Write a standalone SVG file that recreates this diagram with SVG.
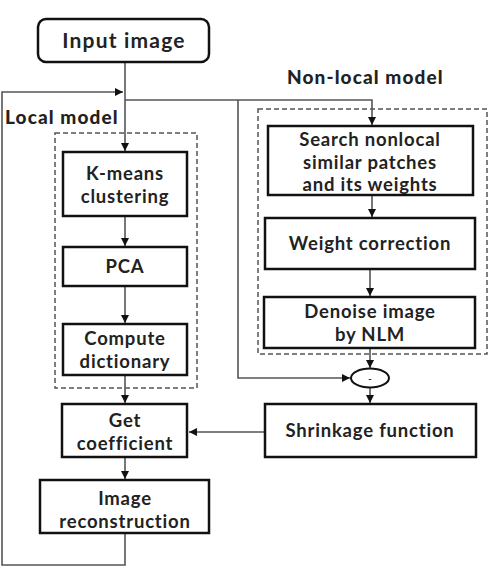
<svg xmlns="http://www.w3.org/2000/svg" width="490" height="571" viewBox="0 0 490 571">
<defs>
<style>
.box{fill:#fff;stroke:#111;stroke-width:2.5}
.dash{fill:none;stroke:#555;stroke-width:1.5;stroke-dasharray:5 3}
.ln{fill:none;stroke:#555;stroke-width:1.6}
.t{font-family:Lato,"Open Sans",sans-serif;font-weight:700;font-size:18.5px;letter-spacing:0.8px;fill:#222;text-anchor:middle}
.lbl{font-family:Lato,"Open Sans",sans-serif;font-weight:900;font-size:19px;letter-spacing:1.1px;fill:#222}
</style>
<marker id="ah" viewBox="0 0 10 10" refX="10" refY="5" markerWidth="8" markerHeight="8" markerUnits="userSpaceOnUse" orient="auto">
<path d="M0,0 L10,5 L0,10 z" fill="#111"/>
</marker>
</defs>
<rect width="490" height="571" fill="#fff"/>
<g id="connectors">
<line class="ln" x1="125" y1="62" x2="125" y2="151" marker-end="url(#ah)"/>
<polyline class="ln" points="125,533 125,565 2,565 2,92 123,92" marker-end="url(#ah)"/>
<polyline class="ln" points="125,100 372,100 372,125" marker-end="url(#ah)"/>
<polyline class="ln" points="238,100 238,378 350,378" marker-end="url(#ah)"/>
<line class="ln" x1="125" y1="216" x2="125" y2="246" marker-end="url(#ah)"/>
<line class="ln" x1="125" y1="286" x2="125" y2="323" marker-end="url(#ah)"/>
<line class="ln" x1="125" y1="375" x2="125" y2="403" marker-end="url(#ah)"/>
<line class="ln" x1="125" y1="457" x2="125" y2="479" marker-end="url(#ah)"/>
<line class="ln" x1="372" y1="195" x2="372" y2="217" marker-end="url(#ah)"/>
<line class="ln" x1="370" y1="269" x2="370" y2="296" marker-end="url(#ah)"/>
<line class="ln" x1="370" y1="348" x2="370" y2="368" marker-end="url(#ah)"/>
<line class="ln" x1="370" y1="388" x2="370" y2="403" marker-end="url(#ah)"/>
<line class="ln" x1="265" y1="432" x2="189" y2="432" marker-end="url(#ah)"/>
</g>
<g id="local-group">
<rect class="dash" x="55" y="133" width="142" height="255"/>
<text class="lbl" x="5" y="124">Local model</text>
</g>
<g id="nonlocal-group">
<rect class="dash" x="258" y="109" width="229" height="245"/>
<text class="lbl" x="287" y="84">Non-local model</text>
</g>
<g id="input-image">
<rect class="box" x="38" y="19" width="171" height="43" rx="8"/>
<text class="t" x="124" y="48" style="font-size:21px;letter-spacing:1.2px">Input image</text>
</g>
<g id="kmeans">
<rect class="box" x="63" y="152" width="124" height="64"/>
<text class="t" x="125" y="180">K-means</text>
<text class="t" x="125" y="202.5">clustering</text>
</g>
<g id="pca">
<rect class="box" x="63" y="247" width="124" height="39"/>
<text class="t" x="125" y="273">PCA</text>
</g>
<g id="compute-dictionary">
<rect class="box" x="63" y="324" width="124" height="51"/>
<text class="t" x="125" y="345">Compute</text>
<text class="t" x="125" y="367.5">dictionary</text>
</g>
<g id="get-coefficient">
<rect class="box" x="62" y="404" width="125" height="53"/>
<text class="t" x="125" y="427">Get</text>
<text class="t" x="125" y="450">coefficient</text>
</g>
<g id="image-reconstruction">
<rect class="box" x="40" y="480" width="169" height="53"/>
<text class="t" x="125" y="505">Image</text>
<text class="t" x="125" y="528">reconstruction</text>
</g>
<g id="search">
<rect class="box" x="268" y="126" width="205" height="69"/>
<text class="t" x="370" y="146">Search nonlocal</text>
<text class="t" x="370" y="168.5">similar patches</text>
<text class="t" x="370" y="191">and its weights</text>
</g>
<g id="weight-correction">
<rect class="box" x="265" y="218" width="210" height="51"/>
<text class="t" x="370" y="250">Weight correction</text>
</g>
<g id="denoise">
<rect class="box" x="264" y="297" width="211" height="51"/>
<text class="t" x="370" y="318">Denoise image</text>
<text class="t" x="370" y="340.5">by NLM</text>
</g>
<g id="minus">
<ellipse cx="370" cy="378" rx="19" ry="9.5" fill="#fff" stroke="#111" stroke-width="2"/>
<text class="t" x="370" y="382" style="font-size:9px;letter-spacing:0">-</text>
</g>
<g id="shrinkage">
<rect class="box" x="265" y="404" width="211" height="53"/>
<text class="t" x="370" y="437">Shrinkage function</text>
</g>
</svg>
